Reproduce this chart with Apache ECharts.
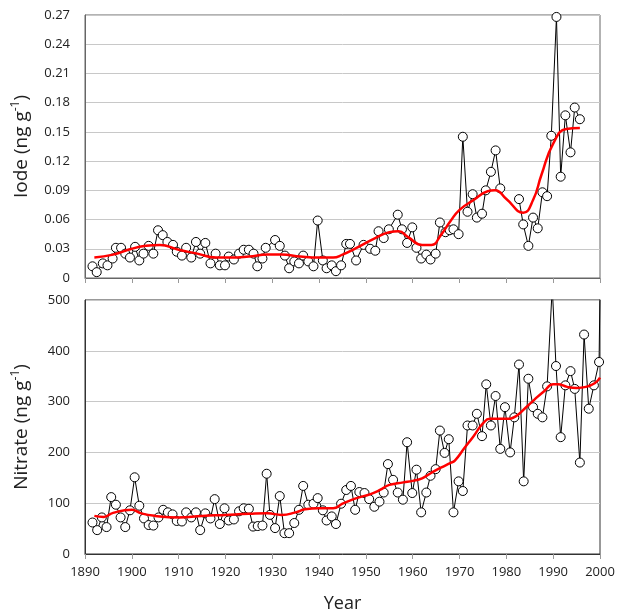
<!DOCTYPE html>
<html>
<head>
<meta charset="utf-8">
<title>Iode / Nitrate</title>
<script src="https://cdn.jsdelivr.net/npm/echarts@6/dist/echarts.min.js"></script>
<style>
    html, body { margin: 0; padding: 0; background: #fff; }
    #chart { width: 622px; height: 614px; }
</style>
</head>
<body>
<div id="chart"></div>
<script>
    // iode, annual samples (ng g-1); null = gap in the record
    var iodeYears = [1891.6, 1892.5, 1893.8, 1894.8, 1895.9, 1896.6, 1897.7, 1898.6, 1899.6, 1900.7,
        1901.6, 1902.5, 1903.6, 1904.6, 1905.6, 1906.6, 1907.6, 1908.8, 1909.6, 1910.7,
        1911.6, 1912.7, 1913.7, 1914.6, 1915.7, 1916.8, 1917.9, 1918.8, 1919.9, 1920.7,
        1921.8, 1922.9, 1923.9, 1925.0, 1926.0, 1926.8, 1927.9, 1928.6, 1930.6, 1931.6,
        1932.7, 1933.6, 1934.7, 1935.7, 1936.6, 1937.7, 1938.8, 1939.7, 1940.8, 1941.6,
        1942.7, 1943.6, 1944.7, 1945.8, 1946.6, 1947.9, 1949.5, 1950.9, 1952.0, 1952.7,
        1953.8, 1954.9, 1956.8, 1957.7, 1958.8, 1959.9, 1960.8, 1961.8, 1962.9, 1963.8,
        1964.9, 1965.8, 1967.0, 1967.9, 1968.7, 1969.8, 1970.7, 1971.7, 1972.8, 1973.7,
        1974.8, 1975.6, 1976.7, 1977.7, 1978.7, 1980.5, 1982.7, 1983.6, 1984.7, 1985.7,
        1986.7, 1987.7, 1988.7, 1989.6, 1990.7, 1991.6, 1992.6, 1993.7, 1994.6, 1995.7];
    var iodeValues = [0.012, 0.006, 0.015, 0.013, 0.020, 0.031, 0.031, 0.025, 0.021, 0.032,
        0.018, 0.025, 0.033, 0.025, 0.049, 0.044, 0.037, 0.034, 0.027, 0.023,
        0.031, 0.021, 0.037, 0.025, 0.036, 0.015, 0.025, 0.013, 0.013, 0.022,
        0.019, 0.025, 0.029, 0.029, 0.025, 0.012, 0.020, 0.031, 0.039, 0.033,
        0.023, 0.010, 0.017, 0.015, 0.023, 0.017, 0.012, 0.059, 0.018, 0.010,
        0.013, 0.007, 0.013, 0.035, 0.035, 0.018, 0.034, 0.030, 0.028, 0.048,
        0.041, 0.050, 0.065, 0.050, 0.036, 0.052, 0.031, 0.020, 0.024, 0.019,
        0.025, 0.057, 0.047, 0.049, 0.050, 0.045, 0.145, 0.068, 0.086, 0.062,
        0.066, 0.090, 0.109, 0.131, 0.092, null, 0.081, 0.055, 0.033, 0.062,
        0.051, 0.088, 0.084, 0.146, 0.268, 0.104, 0.167, 0.129, 0.175, 0.163];

    // smoothed iode trend (red curve)
    var iodeTrendYears = [1892, 1896, 1900, 1903, 1906, 1910, 1914, 1918, 1921, 1925, 1929, 1932,
        1936, 1940, 1943, 1945, 1948, 1952, 1955, 1957, 1959, 1962, 1964, 1966, 1968, 1970,
        1973, 1976, 1977.6, 1980, 1983.6, 1985.7, 1987.5, 1990, 1992.8, 1995.7];
    var iodeTrendValues = [0.021, 0.024, 0.030, 0.033, 0.034, 0.029, 0.025, 0.021, 0.021, 0.022, 0.024, 0.024,
        0.022, 0.021, 0.021, 0.024, 0.031, 0.041, 0.047, 0.048, 0.042, 0.034, 0.034, 0.044, 0.058, 0.070,
        0.080, 0.089, 0.090, 0.081, 0.067, 0.080, 0.106, 0.138, 0.153, 0.154];

    // nitrate, annual samples (ng g-1)
    var nitrateYears = [1891.6, 1892.6, 1893.6, 1894.6, 1895.6, 1896.6, 1897.6, 1898.6, 1899.6, 1900.6,
        1901.6, 1902.6, 1903.6, 1904.6, 1905.7, 1906.7, 1907.7, 1908.7, 1909.6, 1910.7,
        1911.6, 1912.7, 1913.7, 1914.6, 1915.7, 1916.8, 1917.7, 1918.8, 1919.8, 1920.7,
        1921.8, 1922.9, 1923.9, 1925.0, 1925.9, 1926.9, 1927.9, 1928.8, 1929.5, 1930.6,
        1931.6, 1932.6, 1933.6, 1934.7, 1935.7, 1936.6, 1937.7, 1938.8, 1939.7, 1940.8,
        1941.6, 1942.7, 1943.6, 1944.7, 1945.8, 1946.8, 1947.7, 1948.6, 1949.7, 1950.7,
        1951.8, 1952.9, 1953.8, 1954.7, 1955.8, 1956.8, 1957.9, 1958.8, 1959.9, 1960.8,
        1961.8, 1962.9, 1963.8, 1964.9, 1965.8, 1966.8, 1967.7, 1968.7, 1969.8, 1970.7,
        1971.7, 1972.8, 1973.7, 1974.8, 1975.7, 1976.7, 1977.7, 1978.7, 1979.7, 1980.8,
        1981.7, 1982.7, 1983.7, 1984.7, 1985.7, 1986.7, 1987.7, 1988.7, 1989.8, 1990.6,
        1991.6, 1992.6, 1993.7, 1994.6, 1995.7, 1996.6, 1997.6, 1998.7, 1999.8, 2000.0];
    var nitrateValues = [62, 47, 72, 53, 112, 97, 72, 53, 86, 151,
        95, 70, 57, 56, 72, 87, 82, 78, 65, 64,
        82, 72, 82, 47, 80, 70, 108, 59, 90, 66,
        68, 84, 90, 89, 54, 55, 56, 158, 77, 51,
        114, 41, 41, 61, 87, 134, 97, 99, 110, 86,
        66, 74, 59, 99, 126, 134, 87, 122, 120, 108,
        93, 103, 121, 177, 146, 121, 107, 220, 120, 166,
        82, 121, 154, 167, 243, 199, 226, 82, 143, 124,
        253, 253, 276, 232, 334, 253, 311, 207, 289, 200,
        269, 373, 143, 345, 289, 276, 269, 330, 525, 370,
        230, 332, 360, 325, 180, 432, 286, 332, 378, 520];

    // smoothed nitrate trend (red curve)
    var nitrateTrendYears = [1892, 1894, 1896, 1900, 1902, 1905, 1910, 1915, 1920, 1925, 1929, 1932,
        1935, 1937, 1940, 1943, 1945, 1948, 1951, 1953, 1955, 1958, 1960, 1962, 1964, 1966, 1968,
        1969, 1971, 1973, 1975, 1976.5, 1978, 1980, 1982, 1984, 1986, 1988, 1990, 1991, 1993,
        1995, 1997, 1999, 2000];
    var nitrateTrendValues = [75, 73, 81, 87, 80, 75, 72, 75, 77, 79, 80, 77,
        82, 88, 90, 90, 99, 110, 118, 126, 136, 141, 144, 149, 160, 170, 179,
        184, 208, 232, 257, 266, 266, 266, 271, 287, 304, 320, 334, 334, 329,
        327, 329, 337, 347];

    function pairs(xs, ys) {
        return xs.map(function (x, i) { return [x, ys[i]]; });
    }

    var font = 'Open Sans';
    var xTicks = { min: 1890, max: 2000, interval: 10 };

    // rotated axis title with a superscript -1
    function unitName(label) {
        return '{a|' + label + ' (ng g}{s|-1}{a|)}';
    }
    var nameRich = {
        a: { fontSize: 19, color: '#222', fontFamily: font, lineHeight: 24 },
        s: { fontSize: 12, color: '#222', fontFamily: font, verticalAlign: 'top', lineHeight: 15 }
    };

    var option = {
        animation: false,
        backgroundColor: '#fff',
        textStyle: { fontFamily: font },
        grid: [
            { left: 85, right: 22, top: 15, height: 263, show: true, borderColor: '#666', borderWidth: 1 },
            { left: 85, right: 22, top: 300, height: 254, show: true, borderColor: '#333', borderWidth: 1 }
        ],
        xAxis: [
            {
                type: 'value', gridIndex: 0, min: xTicks.min, max: xTicks.max, interval: xTicks.interval,
                axisLine: { lineStyle: { color: '#666' } },
                axisTick: { show: true, length: 5, lineStyle: { color: '#999' } },
                axisLabel: { show: false },
                splitLine: { show: false }
            },
            {
                type: 'value', gridIndex: 1, min: xTicks.min, max: xTicks.max, interval: xTicks.interval,
                name: 'Year', nameLocation: 'middle', nameGap: 41,
                nameTextStyle: { fontSize: 18, color: '#222', fontFamily: font },
                axisLine: { lineStyle: { color: '#333' } },
                axisTick: { show: true, length: 5, lineStyle: { color: '#999' } },
                axisLabel: {
                    fontSize: 13, color: '#222', margin: 12, fontFamily: font,
                    formatter: function (v) { return String(v); }
                },
                splitLine: { show: false }
            }
        ],
        yAxis: [
            {
                type: 'value', gridIndex: 0, min: 0, max: 0.27, interval: 0.03,
                name: unitName('Iode'), nameLocation: 'middle', nameGap: 51, nameRotate: 90,
                nameTextStyle: { rich: nameRich },
                axisLine: { show: true, lineStyle: { color: '#666' } },
                axisTick: { show: false },
                axisLabel: {
                    fontSize: 13, color: '#222', margin: 15, fontFamily: font,
                    formatter: function (v) { return v === 0 ? '0' : v.toFixed(2); }
                },
                splitLine: { lineStyle: { color: '#c8c8c8' } }
            },
            {
                type: 'value', gridIndex: 1, min: 0, max: 500, interval: 100,
                name: unitName('Nitrate'), nameLocation: 'middle', nameGap: 51, nameRotate: 90,
                nameTextStyle: { rich: nameRich },
                axisLine: { show: true, lineStyle: { color: '#333' } },
                axisTick: { show: false },
                axisLabel: { fontSize: 13, color: '#222', margin: 15, fontFamily: font },
                splitLine: { lineStyle: { color: '#c8c8c8' } }
            }
        ],
        series: [
            {
                name: 'Iode', type: 'line', xAxisIndex: 0, yAxisIndex: 0,
                data: pairs(iodeYears, iodeValues),
                symbol: 'circle', symbolSize: 9, connectNulls: false,
                lineStyle: { color: '#000', width: 1 },
                itemStyle: { color: '#fff', borderColor: '#000', borderWidth: 1 },
                z: 2
            },
            {
                name: 'Iode trend', type: 'line', xAxisIndex: 0, yAxisIndex: 0,
                data: pairs(iodeTrendYears, iodeTrendValues),
                smooth: 0.5, showSymbol: false,
                lineStyle: { color: '#ff0000', width: 2.5 },
                z: 3
            },
            {
                name: 'Nitrate', type: 'line', xAxisIndex: 1, yAxisIndex: 1,
                data: pairs(nitrateYears, nitrateValues),
                symbol: 'circle', symbolSize: 9, clip: true,
                lineStyle: { color: '#000', width: 1 },
                itemStyle: { color: '#fff', borderColor: '#000', borderWidth: 1 },
                z: 2
            },
            {
                name: 'Nitrate trend', type: 'line', xAxisIndex: 1, yAxisIndex: 1,
                data: pairs(nitrateTrendYears, nitrateTrendValues),
                smooth: 0.5, showSymbol: false,
                lineStyle: { color: '#ff0000', width: 2.5 },
                z: 3
            }
        ]
    };

    var myChart = echarts.init(document.getElementById('chart'), null, { renderer: 'canvas' });
    myChart.setOption(option);
</script>
</body>
</html>
